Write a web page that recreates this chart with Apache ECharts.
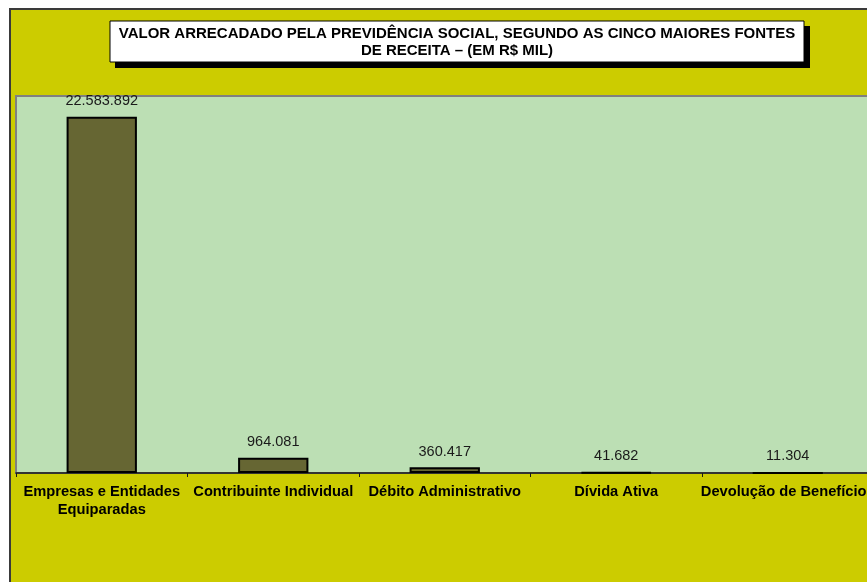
<!DOCTYPE html>
<html>
<head>
<meta charset="utf-8">
<title>Previdência Social – arrecadação</title>
<script src="https://cdn.jsdelivr.net/npm/echarts@6/dist/echarts.min.js"></script>
<style>
  html, body { margin: 0; padding: 0; background: #ffffff; overflow: hidden; width: 867px; height: 582px; }
  #chart { width: 900px; height: 582px; }
</style>
</head>
<body>
<div id="chart"></div>
<script>
// Receita arrecadada (R$ mil) por fonte
const categories = [
  'Empresas e Entidades\nEquiparadas',
  'Contribuinte Individual',
  'Débito Administrativo',
  'Dívida Ativa',
  'Devolução de Benefícios'
];
const values = [22583892, 964081, 360417, 41682, 11304];
const titleLines = [
  'VALOR ARRECADADO PELA PREVIDÊNCIA SOCIAL, SEGUNDO AS CINCO MAIORES FONTES',
  'DE RECEITA – (EM R$ MIL)'
];
const yMax = 23900000;

// Formato brasileiro: ponto como separador de milhar
function fmt(v) {
  return String(v).replace(/\B(?=(\d{3})+(?!\d))/g, '.');
}

const chart = echarts.init(document.getElementById('chart'), null, { renderer: 'canvas' });

chart.setOption({
  animation: false,
  backgroundColor: '#ffffff',
  graphic: [
    // moldura amarela do gráfico
    {
      type: 'rect', z: -10, silent: true,
      shape: { x: 10, y: 9, width: 900, height: 600 },
      style: { fill: '#cccc00', stroke: '#3a3a3a', lineWidth: 2 }
    },
    // sombra da caixa do título
    {
      type: 'rect', z: 1, silent: true,
      shape: { x: 115, y: 26, width: 695, height: 42 },
      style: { fill: '#000000' }
    },
    // caixa do título
    {
      type: 'rect', z: 2, silent: true,
      shape: { x: 110, y: 21, width: 694, height: 41 },
      style: { fill: '#ffffff', stroke: '#000000', lineWidth: 1 }
    },
    {
      type: 'text', z: 3, silent: true,
      x: 457, y: 42,
      style: {
        text: titleLines.join('\n'),
        fill: '#000000',
        font: 'bold 15px "Liberation Sans", Arial, sans-serif',
        align: 'center', verticalAlign: 'middle',
        lineHeight: 17
      }
    }
  ],
  grid: {
    left: 16, top: 96, width: 857.5, height: 377,
    show: true,
    backgroundColor: '#bcdfb4',
    borderColor: '#808080',
    borderWidth: 2
  },
  xAxis: {
    type: 'category',
    data: categories,
    boundaryGap: true,
    axisLine: { show: true, lineStyle: { color: '#1a1a1a', width: 1.5 } },
    axisTick: { show: true, length: 4, lineStyle: { color: '#1a1a1a' } },
    axisLabel: {
      interval: 0,
      margin: 10,
      color: '#000000',
      fontFamily: '"Liberation Sans", Arial, sans-serif',
      fontWeight: 'bold',
      fontSize: 14.7,
      lineHeight: 18
    },
    splitLine: { show: false }
  },
  yAxis: {
    type: 'value',
    min: 0, max: yMax,
    show: false,
    splitLine: { show: false }
  },
  series: [{
    type: 'bar',
    data: values,
    barWidth: '41%',
    itemStyle: { color: '#666633', borderColor: '#000000', borderWidth: 2 },
    label: {
      show: true,
      position: 'top',
      distance: 8,
      color: '#1a1a1a',
      fontFamily: '"Liberation Sans", Arial, sans-serif',
      fontSize: 14.5,
      formatter: p => fmt(p.value)
    }
  }]
});
</script>
</body>
</html>
